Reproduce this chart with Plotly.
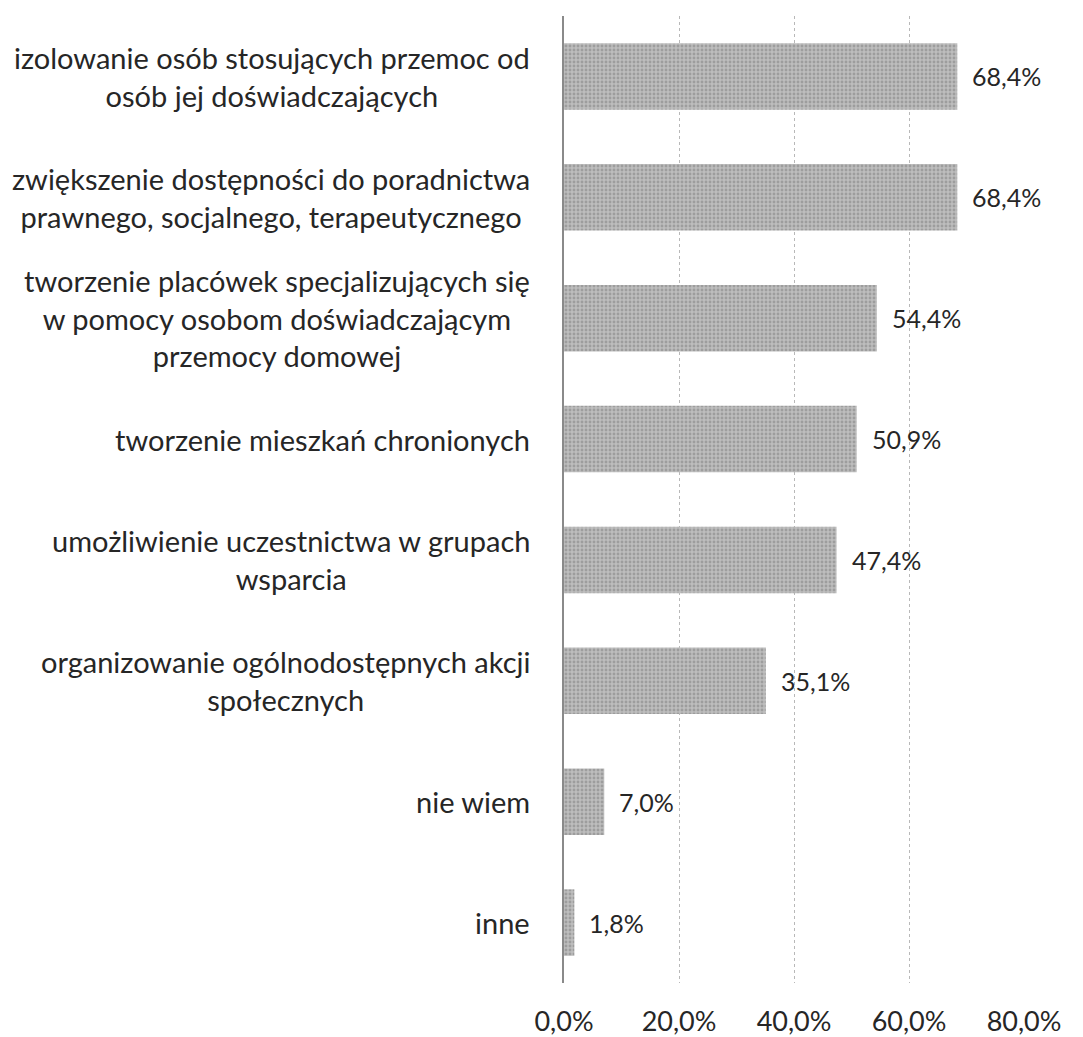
import plotly.graph_objects as go

categories = [
    "izolowanie osób stosujących przemoc od<br>osób jej doświadczających",
    "zwiększenie dostępności do poradnictwa<br>prawnego, socjalnego, terapeutycznego",
    "tworzenie placówek specjalizujących się<br>w pomocy osobom doświadczającym<br>przemocy domowej",
    "tworzenie mieszkań chronionych",
    "umożliwienie uczestnictwa w grupach<br>wsparcia",
    "organizowanie ogólnodostępnych akcji<br>społecznych",
    "nie wiem",
    "inne",
]
values = [68.4, 68.4, 54.4, 50.9, 47.4, 35.1, 7.0, 1.8]
value_labels = ["68,4%", "68,4%", "54,4%", "50,9%", "47,4%", "35,1%", "7,0%", "1,8%"]
tick_vals = [0, 20, 40, 60, 80]
tick_text = ["0,0%", "20,0%", "40,0%", "60,0%", "80,0%"]

FONT = "Lato"
TXT = "#262626"

ids = list(range(len(categories)))

fig = go.Figure()
fig.add_trace(go.Bar(
    y=ids, x=values, orientation="h",
    marker=dict(color="#b9b9b9", line=dict(width=0),
                pattern=dict(shape=".", fgcolor="#7d7d7d", bgcolor="#bdbdbd",
                             size=4, solidity=0.4)),
    hoverinfo="skip",
))

annotations = []
for i, (c, v, t) in enumerate(zip(categories, values, value_labels)):
    annotations.append(dict(x=0, y=i, xref="x", yref="y", text=c, showarrow=False,
                            xanchor="right", yanchor="middle", align="center",
                            xshift=-32,
                            font=dict(family=FONT, size=29, color=TXT)))
    annotations.append(dict(x=v, y=i, xref="x", yref="y", text=t, showarrow=False,
                            xanchor="left", yanchor="middle", xshift=13,
                            font=dict(family=FONT, size=25, color=TXT)))

fig.update_layout(
    width=1083, height=1037,
    margin=dict(l=556, r=67, t=8, b=59),
    paper_bgcolor="white", plot_bgcolor="white",
    bargap=0.45, showlegend=False,
    annotations=annotations,
    xaxis=dict(range=[0, 80], tickvals=tick_vals, ticktext=tick_text,
               showgrid=True, gridcolor="#b8b8b8", griddash="dot", gridwidth=1,
               zeroline=False, showline=False, ticks="",
               ticklabelstandoff=20,
               tickfont=dict(family=FONT, size=27, color=TXT)),
    yaxis=dict(range=[7.5, -0.5], showticklabels=False, showgrid=False,
               zeroline=False, showline=True, linecolor="#8a8a8a", linewidth=2,
               ticks=""),
)

fig.write_html("out.html")
